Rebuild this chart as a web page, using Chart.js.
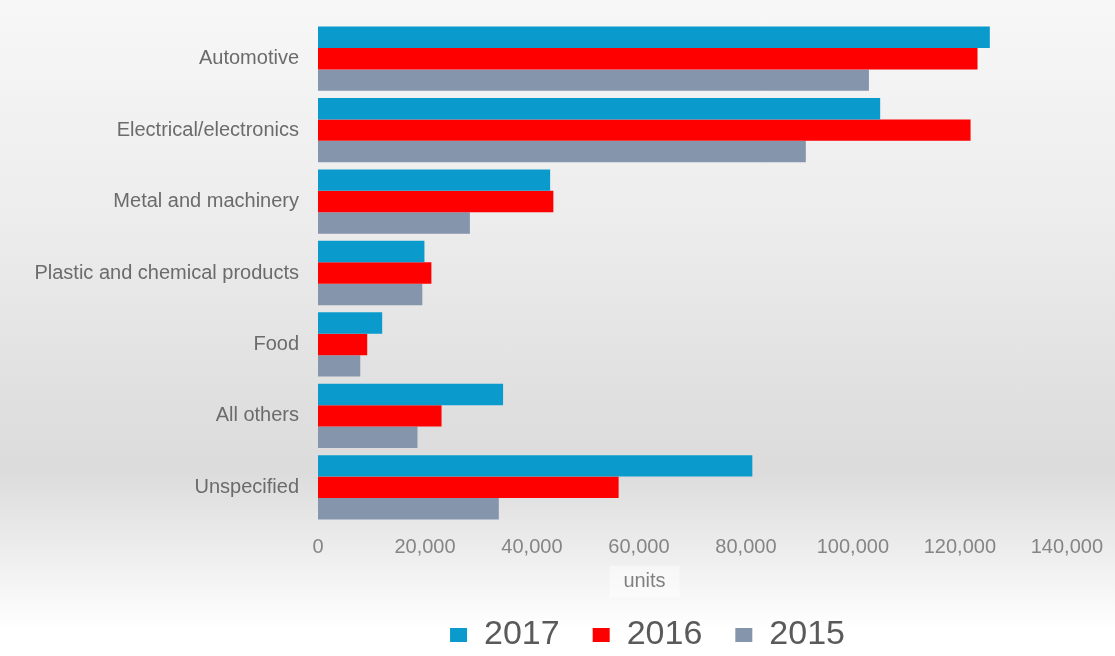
<!DOCTYPE html>
<html>
<head>
<meta charset="utf-8">
<script src="https://cdn.jsdelivr.net/npm/chart.js@4"></script>
<style>
  html, body { margin: 0; padding: 0; }
  body {
    width: 1115px; height: 656px; overflow: hidden;
    background: linear-gradient(to bottom, #f7f7f7 0%, #ececec 35%, #dfdfdf 62%, #dcdcdc 72%, #f0f0f0 86%, #ffffff 96%);
  }
  #wrap { position: relative; width: 1115px; height: 656px; }
</style>
</head>
<body>
<div id="wrap"><canvas id="chart" width="1115" height="656"></canvas></div>
<script>
// values (units)
const categories = ["Automotive", "Electrical/electronics", "Metal and machinery",
  "Plastic and chemical products", "Food", "All others", "Unspecified"];
const values2017 = [125600, 105100, 43400, 19900, 12000, 34600, 81200];
const values2016 = [123300, 122000, 44000, 21200, 9200, 23100, 56200];
const values2015 = [103000, 91200, 28400, 19500, 7900, 18600, 33800];
const xTicks = [0, 20000, 40000, 60000, 80000, 100000, 120000, 140000];
const axisTitle = "units";

const FONT = "Liberation Sans, Arial, sans-serif";

// move the legend right, and draw the x axis title in its little box
const bottomText = {
  id: "bottomText",
  afterLayout(chart) {
    const lg = chart.legend;
    if (!lg) return;
    lg.left += 98;
    lg.right += 98;
  },
  afterDraw(chart) {
    const c = chart.ctx;
    const lg = chart.legend;
    const cx = (lg.left + lg.right) / 2 - 3;
    const cy = chart.scales.x.bottom - 4;
    c.save();
    c.fillStyle = "rgba(255,255,255,0.45)";
    c.fillRect(cx - 35, cy - 15, 70, 31);
    c.fillStyle = "#808080";
    c.font = "20px " + FONT;
    c.textAlign = "center";
    c.textBaseline = "middle";
    c.fillText(axisTitle, cx, cy);
    c.restore();
  }
};

const ctx = document.getElementById("chart").getContext("2d");

new Chart(ctx, {
  type: "bar",
  data: {
    labels: categories,
    datasets: [
      { label: "2017", data: values2017, backgroundColor: "#0a9bcc" },
      { label: "2016", data: values2016, backgroundColor: "#ff0000" },
      { label: "2015", data: values2015, backgroundColor: "#8595ab" }
    ]
  },
  plugins: [bottomText],
  options: {
    indexAxis: "y",
    responsive: false,
    animation: false,
    devicePixelRatio: 1,
    layout: { padding: { top: 23, left: 0, right: 16, bottom: -6 } },
    datasets: { bar: { categoryPercentage: 0.9, barPercentage: 1.0 } },
    scales: {
      x: {
        min: 0, max: 140000,
        afterBuildTicks: (axis) => { axis.ticks = xTicks.map(v => ({ value: v })); },
        grid: { display: false, drawTicks: false },
        border: { display: false },
        ticks: {
          color: "#858585",
          font: { family: FONT, size: 20 },
          padding: 12,
          callback: (v) => Number(v).toLocaleString("en-US")
        },
        afterFit: (axis) => { axis.height = 62; }
      },
      y: {
        grid: { display: false, drawTicks: false },
        border: { display: false },
        ticks: {
          color: "#6b6b6b",
          font: { family: FONT, size: 20 },
          padding: 19
        },
        afterFit: (axis) => {
          axis.width = 318;
          // labels sit mid-band, no need for extra room above/below
          axis.paddingTop = 0;
          axis.paddingBottom = 0;
        }
      }
    },
    plugins: {
      tooltip: { enabled: false },
      legend: {
        position: "bottom",
        labels: {
          color: "#5a5a5a",
          font: { family: FONT, size: 34 },
          boxWidth: 17, boxHeight: 14,
          padding: 33
        }
      }
    }
  }
});
</script>
</body>
</html>
